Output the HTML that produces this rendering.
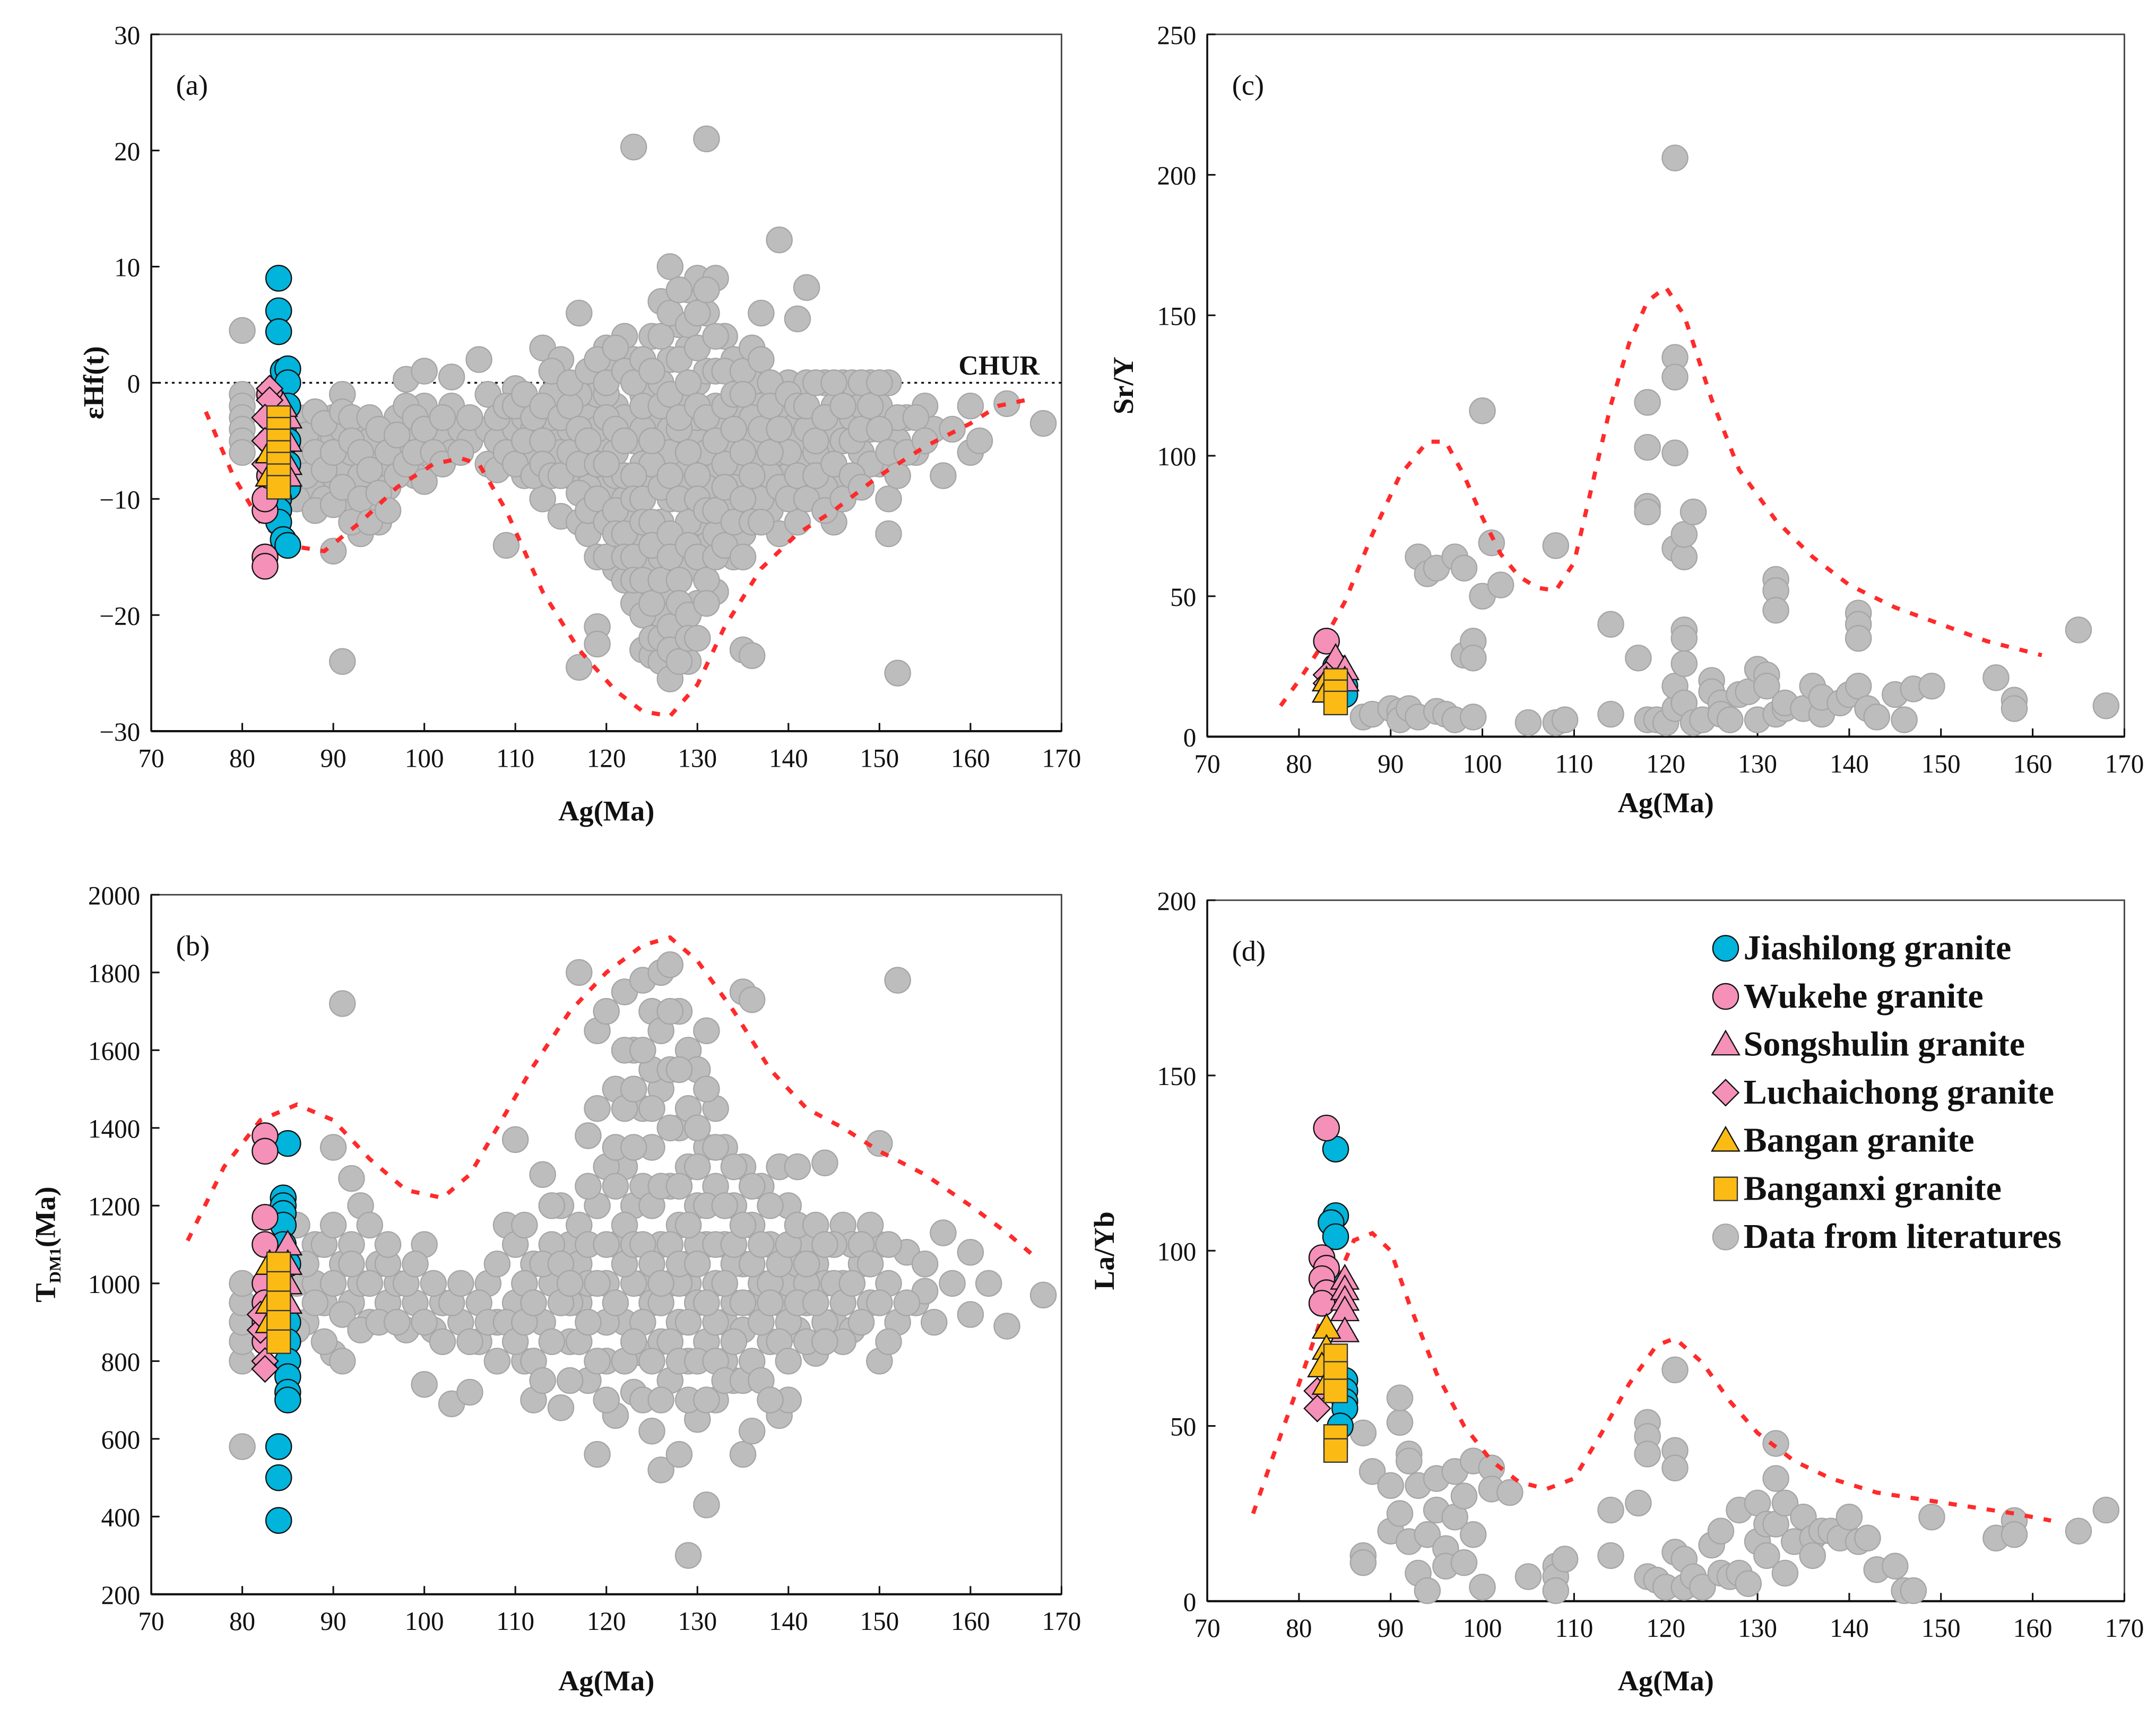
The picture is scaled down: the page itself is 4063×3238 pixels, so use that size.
<!DOCTYPE html>
<html><head><meta charset="utf-8"><title>Age vs geochemistry plots</title>
<style>html,body{margin:0;padding:0;background:#fff}svg{display:block}text{font-family:"Liberation Serif",serif;fill:#111}</style></head>
<body>
<svg id="fig" xmlns="http://www.w3.org/2000/svg" width="4063" height="3238" viewBox="0 0 1568 1250" preserveAspectRatio="none"></svg>
<script>
// ---------- DATA ----------
const xTicks=[70,80,90,100,110,120,130,140,150,160,170];
const aTicks=[30,20,10,0,-10,-20,-30];
const bTicks=[2000,1800,1600,1400,1200,1000,800,600,400,200];
const cTicks=[250,200,150,100,50,0];
const dTicks=[200,150,100,50,0];

const aGray=[[80,4.5],[80,-1],[80,-2],[80,-3],[80,-4],[80,-5],[80,-6],[86,-5],[86,-8],[87,-3],[87,-6],[88,-4],[88,-9],[89,-6],[89,-10],[90,-3],[90,-5],[90,-8],[90,-14.5],[91,-1],[91,-4],[91,-7],[91,-24],[92,-6],[92,-9],[92,-11],[93,-4],[93,-13],[93,-8],[94,-5],[94,-10],[95,-7],[95,-12],[96,-4],[96,-9],[97,-3],[97,-6],[98,0.3],[98,-5],[99,-4],[99,-8],[100,1],[100,-2],[100,-6],[100,-8.5],[101,-4],[102,-5],[103,0.5],[103,-2],[103,-6],[104,-4],[105,-5],[106,2],[107,-1],[107,-4],[107,-7],[108,-5],[109,-14],[110,-0.5],[110,-4],[111,-3],[111,-8],[112,-2],[112,-6],[113,3],[113,-10],[114,-1],[114,-5],[115,2],[115,-11.5],[116,-4],[116,-8],[117,6],[117,-12],[117,-24.5],[118,-3],[118,-7],[118,-13],[119,-1],[119,-15],[119,-21],[119,-22.5],[120,3],[120,-5],[120,-9],[121,1],[121,-2],[121,-6],[121,-16],[122,4],[122,-3],[122,-10],[122,-17],[123,20.3],[123,2],[123,-5],[123,-12],[123,-19],[124,-1],[124,-7],[124,-14],[124,-23],[125,4],[125,-3],[125,-9],[125,-16],[125,-23.5],[126,7],[126,0],[126,-6],[126,-12],[126,-20],[126,-24],[127,10],[127,2],[127,-4],[127,-10],[127,-18],[127,-25.5],[128,5],[128,-1],[128,-7],[128,-14],[128,-22],[129,8],[129,3],[129,-3],[129,-9],[129,-16],[129,-24],[130,9],[130,0],[130,-5],[130,-12],[130,-19],[131,21],[131,6],[131,1],[131,-6],[131,-14],[132,9],[132,-2],[132,-8],[132,-18],[133,4],[133,-4],[133,-11],[134,2],[134,-6],[134,-15],[135,-3],[135,-8],[135,-13],[135,-23],[136,0],[136,-5],[136,-10],[136,-23.5],[137,6],[137,-2],[137,-7],[138,-4],[138,-11],[139,12.3],[139,-6],[139,-13],[140,0],[140,-3],[140,-8],[141,5.5],[141,-5],[141,-12],[142,8.2],[142,0],[142,-7],[143,-3],[143,-10],[144,0],[144,-6],[145,-4],[145,-12],[146,0],[146,-8],[147,0],[147,-3],[148,-6],[149,0],[149,-4],[150,-2],[150,-7],[151,0],[151,-13],[151,-10],[152,-25],[152,-5],[153,-3],[154,-6],[155,-2],[156,-4],[157,-8],[158,-4],[160,-2],[160,-6],[161,-5],[164,-1.8],[168,-3.5],[112,-4],[115,-6],[119,-4],[121,-8],[124,-4],[127,-6],[130,-3],[133,-7],[136,-3],[139,-2],[142,-4],[145,-2],[148,-2],[114,-3],[117,-1],[120,-1],[125,-7],[128,-4],[131,-9],[134,-9],[137,-10],[140,-6],[143,-6],[146,-5],[149,-7],[152,-3],[126,-15],[129,-12],[132,-13],[135,-6],[122,-8],[118,-9],[138,-8],[144,-9]];
const aGray2=[[86,-3],[86,-6.5],[86,-10],[87,-4.5],[87,-8],[88,-2.5],[88,-6],[88,-11],[89,-3.5],[89,-7.5],[90,-6],[90,-10.5],[91,-2.5],[91,-9],[92,-3],[92,-5],[92,-12],[93,-6],[93,-10],[94,-3],[94,-7.5],[94,-12],[95,-4],[95,-9.5],[96,-6],[96,-11],[97,-4.5],[97,-8],[98,-2],[98,-7],[99,-3],[99,-6],[100,-4],[101,-6],[102,-3],[102,-7],[104,-6],[105,-3],[108,-3],[108,-7.5],[109,-2],[109,-6],[110,-2],[110,-7],[111,-5],[111,-1],[112,-3],[112,-8],[113,-2],[113,-5],[113,-7],[114,-8],[114,1],[115,-3],[115,-8],[116,-2],[116,-6],[116,0],[117,-4],[117,-7],[117,-9.5],[118,1],[118,-5],[118,-11],[119,2],[119,-7],[119,-10],[120,0],[120,-3],[120,-7],[120,-12],[120,-15],[121,3],[121,-4],[121,-11],[121,-13],[122,1],[122,-5],[122,-13],[122,-15],[123,0],[123,-8],[123,-10],[123,-15],[123,-17],[124,2],[124,-2],[124,-10],[124,-12],[124,-17],[124,-20],[125,1],[125,-5],[125,-12],[125,-14],[125,-19],[125,-22],[126,4],[126,-2],[126,-9],[126,-17],[126,-22],[127,6],[127,-1],[127,-8],[127,-13],[127,-15],[127,-21],[127,-23],[128,8],[128,2],[128,-3],[128,-10],[128,-17],[128,-19],[128,-24],[129,5],[129,0],[129,-6],[129,-14],[129,-20],[129,-22],[130,6],[130,3],[130,-2],[130,-8],[130,-10],[130,-15],[130,-22],[131,8],[131,-3],[131,-11],[131,-17],[131,-19],[132,4],[132,1],[132,-5],[132,-11],[132,-15],[133,1],[133,-2],[133,-9],[133,-14],[134,-1],[134,-4],[134,-12],[135,1],[135,-1],[135,-10],[135,-15],[136,3],[136,-8],[136,-12],[137,2],[137,-4],[137,-12],[138,0],[138,-2],[138,-6],[139,-4],[139,-9],[140,-1],[140,-10],[141,-2],[141,-8],[142,-2],[142,-10],[143,0],[143,-5],[143,-8],[144,-3],[144,-11],[145,0],[145,-7],[146,-2],[146,-10],[147,-5],[147,-8],[148,0],[148,-4],[148,-9],[149,-2],[150,0],[150,-4],[151,-6],[152,-8],[153,-6],[154,-3],[155,-5]];
const aJia=[[84,9],[84,6.2],[84,4.4],[84.5,1],[85,1.2],[85,0],[85,-2],[84.5,-4],[85,-5],[85,-7],[85,-9],[84,-10],[84,-11],[84,-12],[84.5,-13.5],[85,-14]];
const aWuk=[[82.5,-15],[82.5,-15.8],[82.5,-11],[82.5,-10],[83,-8],[83,-5],[83,-3],[83,-1]];
const aSong=[[85,-3],[85,-5],[85,-7],[85,-8],[84.5,-2]];
const aLuc=[[83,-0.5],[83,-1.5],[82.5,-3],[82.5,-5],[82.5,-7]];
const aBangan=[[83,-6],[83,-8]];
const aBanganxi=[[84,-3],[84,-4],[84,-5],[84,-6],[84,-7],[84,-8],[84,-9]];
const aEnv=[[76,-2.5],[79,-8],[82,-12],[85,-14],[89,-14.5],[93,-12],[97,-9],[101,-7],[104,-6.5],[106,-7],[109,-11],[113,-18],[117,-23],[121,-26.5],[124,-28.3],[127,-28.7],[130,-26],[133,-21],[137,-16],[141,-13],[145,-11],[150,-8],[155,-5.5],[160,-3.5],[163,-2],[166,-1.5]];

const bGray=[[80,580],[80,800],[80,850],[80,900],[80,950],[80,1000],[86,1000],[87,900],[88,1100],[89,950],[90,1350],[90,820],[91,1720],[91,1050],[91,800],[92,1270],[92,950],[93,1200],[93,1000],[94,1150],[94,900],[95,1050],[96,950],[97,1000],[98,880],[99,950],[100,740],[100,1100],[101,880],[102,950],[103,690],[104,900],[105,720],[106,850],[107,1000],[108,900],[109,1150],[110,1370],[110,950],[111,800],[112,1050],[112,700],[113,1280],[113,900],[114,1000],[115,680],[115,1200],[116,1100],[116,850],[117,1800],[117,950],[118,1380],[118,750],[119,1650],[119,1200],[119,560],[120,1700],[120,1000],[120,800],[121,1500],[121,1100],[121,660],[122,1750],[122,1300],[122,900],[123,1600],[123,1200],[123,720],[124,1780],[124,1450],[124,1000],[124,820],[125,1700],[125,1350],[125,950],[125,620],[126,1800],[126,1500],[126,1100],[126,850],[126,520],[127,1820],[127,1250],[127,1000],[127,750],[128,1700],[128,1400],[128,1150],[128,900],[128,560],[129,1600],[129,1300],[129,1000],[129,800],[129,300],[130,1550],[130,1200],[130,950],[130,650],[131,1650],[131,1100],[131,850],[131,430],[132,1450],[132,1250],[132,1000],[132,700],[133,1350],[133,1100],[133,900],[134,1200],[134,950],[134,750],[135,1750],[135,1300],[135,1050],[135,880],[135,560],[136,1730],[136,1150],[136,950],[136,620],[137,1250],[137,1000],[138,1100],[138,850],[139,1300],[139,950],[139,660],[140,1200],[140,1000],[141,1300],[141,880],[142,1100],[142,950],[143,1050],[143,820],[144,1310],[144,1000],[145,900],[146,1150],[146,1000],[147,880],[148,1050],[149,950],[150,1360],[150,1100],[150,800],[151,1000],[152,1780],[152,900],[153,1080],[154,950],[155,980],[156,900],[157,1130],[158,1000],[160,1080],[160,920],[162,1000],[164,890],[168,970],[114,1100],[117,1050],[120,900],[123,1000],[126,950],[129,1050],[132,900],[135,950],[138,1000],[141,1050],[144,900],[147,1100],[111,1000],[116,950],[122,1050],[128,1000],[134,1050],[140,900],[146,850],[149,1150],[88,1000],[92,1100],[96,1050],[118,1000],[124,900],[130,1100],[136,1050],[142,1000],[127,1400],[125,1550],[131,1350],[133,800]];
const bGray2=[[86,880],[86,1150],[87,1050],[88,950],[89,1100],[89,850],[90,1000],[90,1150],[91,920],[92,1050],[93,880],[94,1000],[95,900],[96,1100],[97,900],[98,1000],[99,1050],[100,900],[101,1000],[102,850],[103,950],[104,1000],[105,850],[106,950],[107,900],[108,1050],[108,800],[109,900],[110,850],[110,1100],[111,1150],[111,900],[112,950],[112,800],[113,1050],[113,750],[114,850],[114,1200],[115,950],[115,1050],[116,1000],[116,750],[117,850],[117,1150],[118,900],[118,1100],[118,1250],[119,1000],[119,800],[119,1450],[120,1100],[120,1300],[120,700],[121,950],[121,1250],[121,1350],[122,800],[122,1150],[122,1450],[122,1600],[123,850],[123,1100],[123,1350],[123,1500],[124,700],[124,1100],[124,1250],[124,1600],[125,800],[125,1050],[125,1200],[125,1450],[126,700],[126,1000],[126,1250],[126,1650],[127,850],[127,1100],[127,1550],[127,1700],[128,800],[128,1050],[128,1250],[128,1550],[129,700],[129,900],[129,1150],[129,1450],[130,800],[130,1050],[130,1300],[130,1400],[131,700],[131,950],[131,1200],[131,1500],[132,800],[132,1100],[132,1350],[133,750],[133,1000],[133,1200],[134,850],[134,1100],[134,1300],[135,750],[135,1150],[136,800],[136,1050],[136,1250],[137,900],[137,1100],[137,750],[138,950],[138,1200],[139,850],[139,1050],[140,800],[140,1100],[141,950],[141,1150],[142,850],[142,1050],[143,950],[143,1150],[144,850],[145,1000],[145,1100],[146,950],[147,1000],[148,900],[148,1100],[149,1050],[150,950],[151,850],[151,1100],[153,950],[155,1050],[144,1100],[140,700],[138,700]];
const bJia=[[85,1360],[84.5,1220],[84.5,1200],[84.5,1180],[84.5,1150],[84.5,1100],[85,1050],[85,900],[85,850],[85,800],[85,760],[85,720],[85,700],[84,580],[84,500],[84,390]];
const bWuk=[[82.5,1380],[82.5,1340],[82.5,1170],[82.5,1100],[82.5,1000],[82.5,950],[82.5,900],[82.5,850]];
const bLuc=[[82.5,800],[82.5,780],[82,880],[82,920]];
const bSong=[[85,1100],[85,1050],[85,1000],[85,950]];
const bBangan=[[83,1050],[83,950],[83,900]];
const bBanganxi=[[84,1050],[84,1000],[84,950],[84,900],[84,850]];
const bEnv=[[74,1110],[78,1300],[82,1420],[86,1460],[90,1420],[94,1320],[98,1240],[102,1220],[105,1280],[108,1400],[112,1560],[116,1700],[120,1800],[124,1870],[127,1890],[130,1830],[134,1700],[138,1550],[142,1450],[146,1400],[150,1340],[155,1280],[160,1200],[164,1130],[167,1070]];

const cGray=[[87,7],[88,8],[90,10],[91,9],[91,6],[92,10],[93,7],[93,64],[94,58],[95,60],[95,9],[96,8],[97,64],[97,6],[98,60],[98,29],[99,34],[99,28],[99,7],[100,50],[100,116],[101,69],[102,54],[105,5],[108,68],[108,5],[109,6],[114,40],[114,8],[117,28],[118,119],[118,103],[118,82],[118,80],[118,6],[119,6],[120,5],[121,206],[121,135],[121,128],[121,101],[121,67],[121,10],[121,18],[122,64],[122,72],[122,38],[122,35],[122,26],[122,12],[123,80],[123,5],[124,6],[125,20],[125,16],[126,12],[126,8],[127,6],[128,15],[129,16],[130,24],[130,6],[131,22],[131,18],[132,56],[132,52],[132,45],[132,8],[133,10],[133,12],[135,10],[136,18],[137,8],[137,14],[139,12],[140,15],[141,44],[141,40],[141,35],[141,18],[142,10],[143,7],[145,15],[146,6],[147,17],[149,18],[156,21],[158,13],[158,10],[165,38],[168,11]];
const cJia=[[84,25],[84.5,22],[85,18],[85,15]];
const cWuk=[[83,34]];
const cSong=[[84,28],[85,24],[85,20]];
const cLuc=[[83,22],[83,19]];
const cBangan=[[83,20],[83,16]];
const cBanganxi=[[84,20],[84,16],[84,12]];
const cEnv=[[78,11],[80,20],[82,30],[85,48],[88,72],[91,93],[94,105],[96,105],[98,93],[100,78],[102,65],[104,57],[106,53],[108,52],[110,62],[112,90],[114,118],[116,140],[118,155],[120,160],[122,150],[125,120],[128,95],[132,77],[136,64],[140,54],[145,46],[150,40],[155,34],[161,29]];

const dGray=[[87,13],[87,11],[87,48],[88,37],[90,33],[90,20],[91,25],[91,51],[91,58],[92,42],[92,40],[92,17],[93,33],[93,8],[94,19],[94,3],[95,35],[95,26],[96,15],[96,10],[97,37],[97,24],[98,11],[98,30],[99,40],[99,19],[100,4],[101,38],[101,32],[103,31],[105,7],[108,10],[108,7],[108,3],[109,12],[114,26],[114,13],[117,28],[118,51],[118,47],[118,42],[118,7],[119,6],[120,4],[121,66],[121,43],[121,38],[121,14],[122,4],[122,12],[123,7],[124,4],[125,16],[126,20],[126,8],[127,7],[128,8],[128,26],[129,5],[130,28],[130,17],[131,22],[131,13],[132,45],[132,35],[132,22],[133,8],[133,28],[134,17],[135,24],[136,18],[136,13],[137,20],[138,20],[139,18],[140,24],[141,17],[142,18],[143,9],[145,10],[146,3],[147,3],[149,24],[156,18],[158,23],[158,19],[165,20],[168,26]];
const dJia=[[84,129],[84,110],[83.5,108],[84,104],[84,90],[85,63],[85,60],[85,57],[85,55],[84.5,50]];
const dWuk=[[83,135],[82.5,98],[83,95],[82.5,92],[83,88],[82.5,85]];
const dSong=[[85,92],[85,89],[85,86],[85,83],[85,77]];
const dLuc=[[82,60],[82,55]];
const dBangan=[[83,78],[83,72],[82.5,67],[83,62]];
const dBanganxi=[[84,70],[84,65],[84,60],[84,47],[84,43]];
const dEnv=[[75,25],[77,40],[80,62],[83,85],[86,103],[88,105],[90,100],[92,85],[95,65],[98,50],[101,40],[104,34],[107,32],[110,35],[113,48],[116,62],[119,73],[121,75],[124,68],[127,57],[130,48],[134,40],[138,35],[143,31],[148,29],[153,27],[158,25],[162,23]];

const legendLabels=["Jiashilong granite","Wukehe granite","Songshulin granite","Luchaichong granite","Bangan granite","Banganxi granite","Data from literatures"];

// ---------- DRAW ----------
const NS="http://www.w3.org/2000/svg";
const svg=document.getElementById('fig');
function mk(tag,attrs,parent){const e=document.createElementNS(NS,tag);for(const k in attrs)e.setAttribute(k,attrs[k]);(parent||svg).appendChild(e);return e;}
const R=9.3;
const COL={gray:'#bdbdbd',cyan:'#00b4dc',pink:'#f590b8',gold:'#fbbb14'};
function marker(g,type,x,y,name){
  let e;
  if(type==='gray'){e=mk('circle',{cx:x,cy:y,r:R,fill:COL.gray,stroke:'#a6a6a6','stroke-width':0.9},g);}
  else if(type==='cyan'||type==='pink'){e=mk('circle',{cx:x,cy:y,r:R,fill:COL[type],stroke:'#111','stroke-width':0.9},g);}
  else if(type==='tri'||type==='tri-gold'){const s=10;e=mk('polygon',{points:`${x},${y-s} ${x+s},${y+s*0.75} ${x-s},${y+s*0.75}`,fill:type==='tri'?COL.pink:COL.gold,stroke:'#111','stroke-width':0.9},g);}
  else if(type==='dia'){const s=9.5;e=mk('polygon',{points:`${x},${y-s} ${x+s},${y} ${x},${y+s} ${x-s},${y}`,fill:COL.pink,stroke:'#111','stroke-width':0.9},g);}
  else if(type==='sq'){const s=8.5;e=mk('rect',{x:x-s,y:y-s,width:2*s,height:2*s,fill:COL.gold,stroke:'#333','stroke-width':0.9},g);}
  
  
  return e;
}
function panel(o){
  const g=mk('g',{});
  
  
  const sx=v=>o.x0+(v-70)/100*(o.x1-o.x0);
  const sy=v=>o.y1-(v-o.ymin)/(o.ymax-o.ymin)*(o.y1-o.y0);
  const fr=mk('rect',{x:o.x0,y:o.y0,width:o.x1-o.x0,height:o.y1-o.y0,fill:'none',stroke:'#444','stroke-width':1.1},g);
  
  
  mk('line',{x1:o.x0,y1:o.y1,x2:o.x1,y2:o.y1,stroke:'#111','stroke-width':1.6},g);
  mk('line',{x1:o.x0,y1:o.y0,x2:o.x0,y2:o.y1,stroke:'#111','stroke-width':1.4},g);
  xTicks.forEach(t=>{const X=sx(t);mk('line',{x1:X,y1:o.y1,x2:X,y2:o.y1-6,stroke:'#111','stroke-width':1.2},g);
    const tx=mk('text',{x:X,y:o.y1+26,'font-size':19,'text-anchor':'middle'},g);tx.textContent=t;
    
    });
  o.ticks.forEach(t=>{const Y=sy(t);mk('line',{x1:o.x0,y1:Y,x2:o.x0+6,y2:Y,stroke:'#111','stroke-width':1.2},g);
    const tx=mk('text',{x:o.x0-8,y:Y+7,'font-size':19,'text-anchor':'end'},g);tx.textContent=(t<0?'\u2212'+(-t):t);
    
    });
  const xt=mk('text',{x:(o.x0+o.x1)/2,y:o.xty,'font-size':21,'text-anchor':'middle','font-weight':'bold'},g);xt.textContent='Ag(Ma)';
  
  
  const yt=mk('text',{x:0,y:0,'font-size':21,'text-anchor':'middle','font-weight':'bold',transform:`translate(${o.ytx},${(o.y0+o.y1)/2}) rotate(-90)`},g);
  if(o.ytitleHtml){yt.innerHTML=o.ytitleHtml;}else yt.textContent=o.ytitle;
  
  
  const pl=mk('text',{x:o.x0+18,y:o.y0+44,'font-size':21},g);pl.textContent=o.label;
  
  
  if(o.chur){const l=mk('line',{x1:o.x0,y1:sy(0),x2:o.x1,y2:sy(0),stroke:'#111','stroke-width':1.3,'stroke-dasharray':'2 3'},g);
    
    
    const ct=mk('text',{x:o.x1-16,y:sy(0)-6,'font-size':20,'text-anchor':'end','font-weight':'bold'},g);ct.textContent='CHUR';
    
    }
  o.gray.forEach(p=>marker(g,'gray',sx(p[0]),sy(p[1]),'literature-point'));
  const env=mk('polyline',{points:o.env.map(p=>sx(p[0])+','+sy(p[1])).join(' '),fill:'none',stroke:'#ff2a2a','stroke-width':3,'stroke-dasharray':'6 8'},g);
  
  
  o.jia.forEach(p=>marker(g,'cyan',sx(p[0]),sy(p[1]),'jiashilong-point'));
  o.wuk.forEach(p=>marker(g,'pink',sx(p[0]),sy(p[1]),'wukehe-point'));
  o.song.forEach(p=>marker(g,'tri',sx(p[0]),sy(p[1]),'songshulin-point'));
  o.luc.forEach(p=>marker(g,'dia',sx(p[0]),sy(p[1]),'luchaichong-point'));
  o.bangan.forEach(p=>marker(g,'tri-gold',sx(p[0]),sy(p[1]),'bangan-point'));
  o.banganxi.forEach(p=>marker(g,'sq',sx(p[0]),sy(p[1]),'banganxi-point'));
}
panel({id:'panel-a',label:'(a)',x0:110,x1:772,y0:25,y1:532,ymin:-30,ymax:30,ticks:aTicks,xty:597,ytx:75,ytitle:'εHf(t)',chur:true,gray:aGray.concat(aGray2),env:aEnv,jia:aJia,wuk:aWuk,song:aSong,luc:aLuc,bangan:aBangan,banganxi:aBanganxi});
panel({id:'panel-c',label:'(c)',x0:878,x1:1545,y0:25,y1:536,ymin:0,ymax:250,ticks:cTicks,xty:591,ytx:824,ytitle:'Sr/Y',gray:cGray,env:cEnv,jia:cJia,wuk:cWuk,song:cSong,luc:cLuc,bangan:cBangan,banganxi:cBanganxi});
panel({id:'panel-b',label:'(b)',x0:110,x1:772,y0:651,y1:1160,ymin:200,ymax:2000,ticks:bTicks,xty:1230,ytx:40,ytitleHtml:'T<tspan font-size="12" dy="4">DM1</tspan><tspan dy="-4">(Ma)</tspan>',gray:bGray.concat(bGray2),env:bEnv,jia:bJia,wuk:bWuk,song:bSong,luc:bLuc,bangan:bBangan,banganxi:bBanganxi});
panel({id:'panel-d',label:'(d)',x0:878,x1:1545,y0:655,y1:1165,ymin:0,ymax:200,ticks:dTicks,xty:1230,ytx:810,ytitle:'La/Yb',gray:dGray,env:dEnv,jia:dJia,wuk:dWuk,song:dSong,luc:dLuc,bangan:dBangan,banganxi:dBanganxi});

const lg=mk('g',{});


const lTypes=['cyan','pink','tri','dia','tri-gold','sq','gray'];
legendLabels.forEach((s,i)=>{const y=690+i*35;
  const g=mk('g',{},lg);
  
  
  marker(g,lTypes[i],1255,y,'legend-marker');
  const t=mk('text',{x:1268,y:y+8,'font-size':25.5,'font-weight':'bold'},g);t.textContent=s;
  
  
});
</script>
</body></html>
